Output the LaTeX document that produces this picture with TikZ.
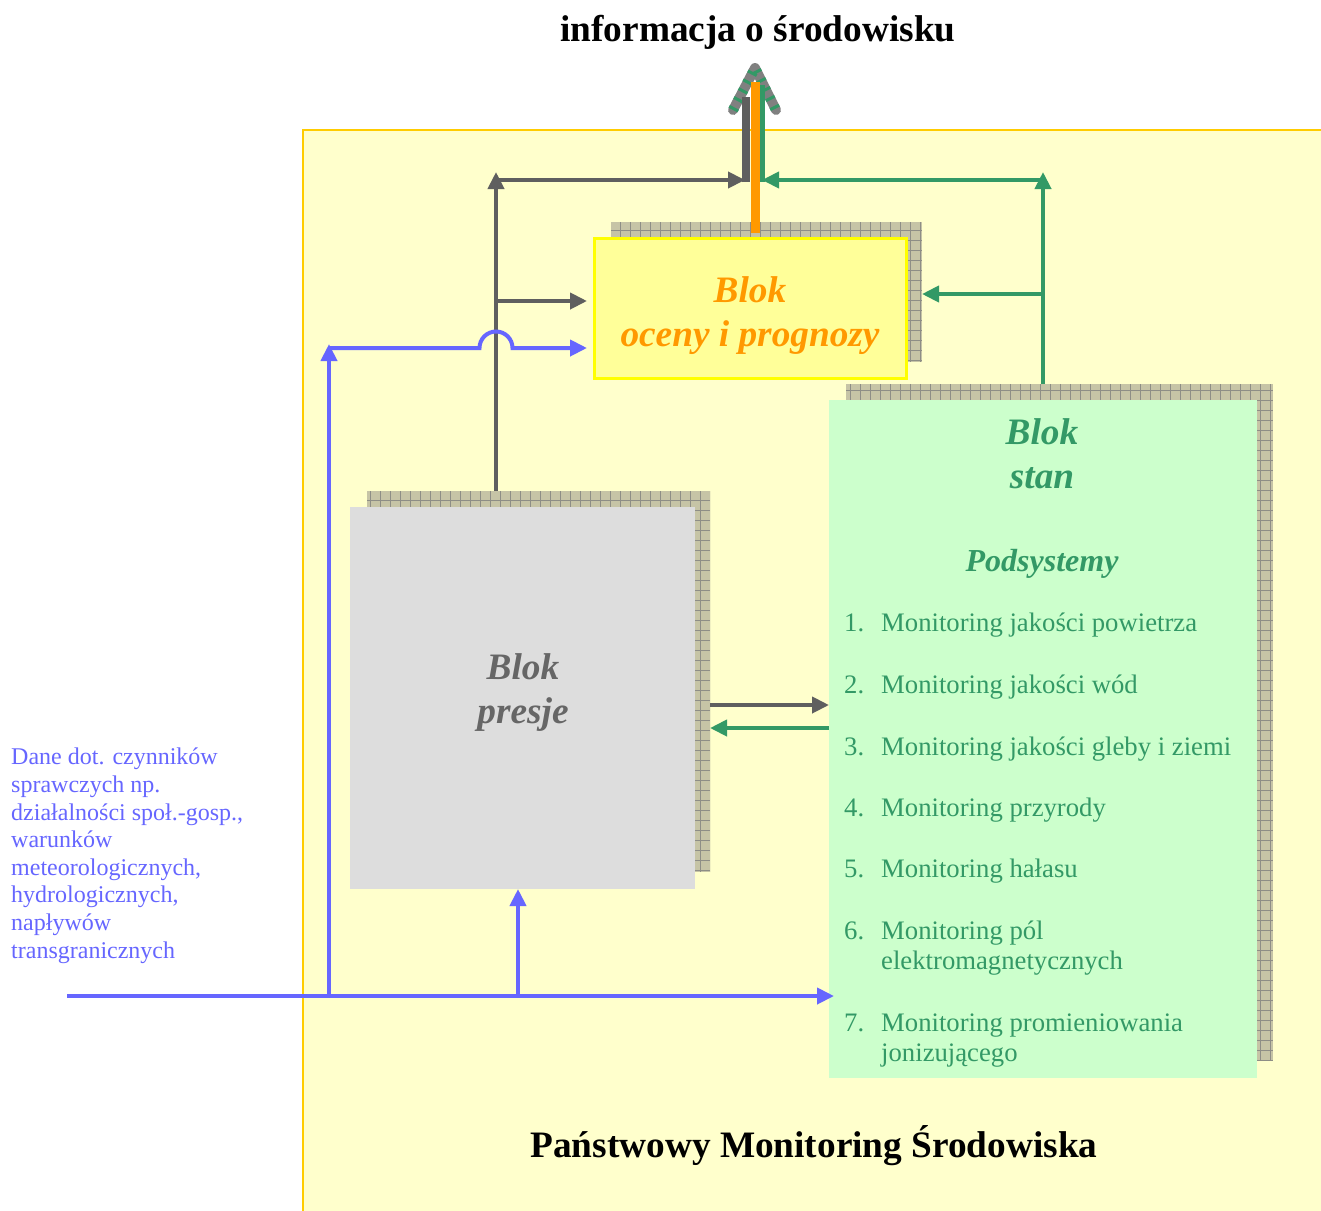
\documentclass[tikz,border=0pt]{standalone}
\usepackage{fontspec}
\setmainfont{Liberation Serif}
\usetikzlibrary{arrows.meta}
\definecolor{bg}{HTML}{FFFFCC}
\definecolor{gold}{HTML}{FFCC00}
\definecolor{ocenafill}{HTML}{FFFF99}
\definecolor{ocenaline}{HTML}{FFFF00}
\definecolor{stanfill}{HTML}{CCFFCC}
\definecolor{presfill}{HTML}{DDDDDD}
\definecolor{presgrey}{HTML}{666666}
\definecolor{dgrey}{HTML}{5F5F5F}
\definecolor{pgreen}{HTML}{339966}
\definecolor{pblue}{HTML}{6666FF}
\definecolor{porange}{HTML}{FF9900}
\definecolor{shfill}{HTML}{C6C4A6}
\definecolor{shline}{HTML}{8E8E86}
\newcommand\hatchshadow[4]{%
  \fill[shfill] (#1,#2) rectangle (#3,#4);
  \begin{scope}
    \clip (#1,#2) rectangle (#3,#4);
    \draw[shline, line width=0.9pt, step=10pt] (#1,#2) grid (#3,#4);
  \end{scope}}
\begin{document}
\begin{tikzpicture}[x=1pt,y=-1pt,
  conn/.style={line width=4pt},
  tip/.style={-{Triangle[length=17pt,width=16pt]}},
  boxnode/.style={inner sep=0pt, outer sep=0pt, anchor=north west},
  bigtitle/.style={font=\bfseries\itshape\fontsize{37.3}{44}\selectfont, align=center},
  item/.style={anchor=base west, inner sep=0pt, text=pgreen, font=\fontsize{26.7}{30}\selectfont, align=left}
]
\useasboundingbox (0,0) rectangle (1321,1210);
% background
\draw[gold, line width=2pt, fill=bg] (303,130) rectangle (1340,1230);

% shadows
\hatchshadow{611}{222}{922}{362}
\hatchshadow{846}{384}{1273}{1060}
\hatchshadow{367}{491}{710}{872}

% boxes
\node[boxnode, draw=ocenaline, line width=3pt, fill=ocenafill, minimum width=312pt, minimum height=140pt] (ocena) at (594,238) {};
\node[boxnode, fill=stanfill, minimum width=428pt, minimum height=678pt] (stan) at (829,400) {};
\node[boxnode, fill=presfill, minimum width=345pt, minimum height=382pt] (presje) at (350,507) {};

% junction coordinates
\coordinate (presjeTop) at (496,491);
\coordinate (gTopL) at (496,172);
\coordinate (gCorner) at (496,180);
\coordinate (gMid) at (496,301);
\coordinate (stanTop) at (1043,384);
\coordinate (sTopR) at (1043,172);
\coordinate (sCorner) at (1043,180);
\coordinate (sMid) at (1043,294);
\coordinate (outGrey) at (745,180);
\coordinate (outGreen) at (762,180);
\coordinate (blueStart) at (67,996);
\coordinate (blueEnd) at (834,996);
\coordinate (blueJ1) at (329,996);
\coordinate (blueJ2) at (518,996);
\coordinate (blueUp) at (329,344);
\coordinate (blueCorner) at (329,348);

% dark grey connectors
\draw[conn, dgrey, tip] (presjeTop) -- (gTopL);
\draw[conn, dgrey, tip] (gCorner) -- (outGrey);
\draw[conn, dgrey, tip] (gMid) -- (587,301);
\draw[conn, dgrey, tip] (710,705) -- (stan.west |- 0,705);

% green connectors
\draw[conn, pgreen, tip] (stanTop) -- (sTopR);
\draw[conn, pgreen, tip] (sCorner) -- (outGreen);
\draw[conn, pgreen, tip] (sMid) -- (922,294);
\draw[conn, pgreen, tip] (stan.west |- 0,728) -- (710,728);

% blue connectors
\draw[conn, pblue, tip] (blueStart) -- (blueEnd);
\draw[conn, pblue, tip] (blueJ1) -- (blueUp);
\draw[conn, pblue, tip] (blueCorner) -- (479.5,348) arc[start angle=180, end angle=0, radius=16.5pt] -- (587,348);
\draw[conn, pblue, tip] (blueJ2) -- (presje.south -| blueJ2);

% output arrow
\draw[line width=10pt, line cap=round, line join=round, color=gray] (733,110) -- (755,68) -- (776,110);
\draw[line width=10pt, line join=round, color=pgreen, dash pattern=on 3pt off 7pt] (733,110) -- (755,68) -- (776,110);
\draw[line width=8pt, dgrey] (746,182) -- (746,97);
\draw[line width=5pt, pgreen] (762,182) -- (762,85);
\draw[line width=9pt, porange] (755,233) -- (755,82);

% texts
\node[font=\bfseries\fontsize{37.3}{44}\selectfont] (title) at (758,32) {informacja o środowisku};
\node[bigtitle, text=porange] (ocenaText) at (750,316) {Blok\\oceny i prognozy};
\node[bigtitle, text=pgreen] (stanText) at (1042,454) {Blok\\stan};
\node[font=\bfseries\itshape\fontsize{32}{38}\selectfont, text=pgreen] (podsys) at (1042,564) {Podsystemy};
\node[bigtitle, text=presgrey] (presjeText) at (523,693) {Blok\\presje};

\node[item] (n1) at (844,631) {1.}; \node[item] (t1) at (881,631) {Monitoring jakości powietrza};
\node[item] (n2) at (844,693) {2.}; \node[item] (t2) at (881,693) {Monitoring jakości wód};
\node[item] (n3) at (844,755) {3.}; \node[item] (t3) at (881,755) {Monitoring jakości gleby i ziemi};
\node[item] (n4) at (844,816) {4.}; \node[item] (t4) at (881,816) {Monitoring przyrody};
\node[item] (n5) at (844,877) {5.}; \node[item] (t5) at (881,877) {Monitoring hałasu};
\node[item] (n6) at (844,939) {6.}; \node[item] (t6) at (881,969) {Monitoring pól\\elektromagnetycznych};
\node[item] (n7) at (844,1031) {7.}; \node[item] (t7) at (881,1061) {Monitoring promieniowania\\jonizującego};

\node[anchor=north west, inner sep=0pt, align=left, text=pblue, font=\fontsize{24}{27.6}\selectfont] (dane) at (11,748) {Dane dot. czynników\\sprawczych np.\\działalności społ.-gosp.,\\warunków\\meteorologicznych,\\hydrologicznych,\\napływów\\transgranicznych};

\node[font=\bfseries\fontsize{37.3}{44}\selectfont] (pms) at (814,1146) {Państwowy Monitoring Środowiska};
\end{tikzpicture}
\end{document}
